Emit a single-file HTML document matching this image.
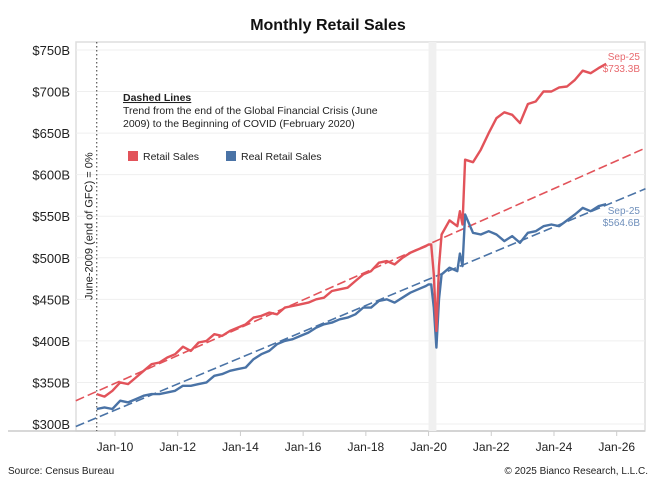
<!DOCTYPE html>
<html><head><meta charset="utf-8"><style>
body{margin:0;background:#fff;font-family:"Liberation Sans",sans-serif;}
svg text{font-family:"Liberation Sans",sans-serif;}
</style></head><body>
<svg id="c" width="656" height="492" viewBox="0 0 656 492">
<text x="328" y="30" text-anchor="middle" font-size="16" font-weight="bold" fill="#111">Monthly Retail Sales</text>
<g id="plot"></g>
<text x="8" y="474" font-size="10" fill="#222">Source: Census Bureau</text>
<text x="648" y="474" font-size="10" fill="#222" text-anchor="end">© 2025 Bianco Research, L.L.C.</text>
</svg>
<script>
// month index: 0 = Jan-2010
const months=[-7,-4,-1,2,5,8,11,14,17,20,23,26,29,32,35,38,41,44,47,50,53,56,59,62,65,68,71,74,77,80,83,86,89,92,95,98,101,104,107,110,113,116,119,120,121,122,123,124,125,128,131,132,133,134,137,140,143,146,149,152,155,158,161,164,167,170,173,176,179,182,185,188];
const retail=[336,333,340,350,348,356,364,372,374,380,384,393,388,398,400,408,406,412,416,420,428,430,434,432,440,442,444,446,450,452,460,462,464,472,480,484,494,496,492,500,506,510,514,516,516,480,412,490,528,545,538,556,540,618,615,630,650,668,675,672,662,685,688,700,700,705,706,714,725,722,728,733.3];
const real=[318,320,318,328,326,330,334,336,336,338,340,346,346,348,350,358,360,364,366,368,378,384,388,396,400,402,406,410,416,420,422,426,428,432,440,440,448,450,446,452,458,462,466,468,468,440,392,450,480,488,484,505,490,552,530,528,532,528,520,526,518,530,532,538,540,538,545,552,560,556,562,564.6];
const trendMonths=[-15,203];
const retailTrend=[328,632];
const realTrend=[297,583];
const yTicks=[300,350,400,450,500,550,600,650,700,750];
const xTickMonths=[0,24,48,72,96,120,144,168,192];
const xTickLabels=["Jan-10","Jan-12","Jan-14","Jan-16","Jan-18","Jan-20","Jan-22","Jan-24","Jan-26"];

const L=76,R=645,T=42,B=431;
const xs=m=>115+m*2.613;
const ys=v=>424-(v-300)*(41.56/50);
const NS="http://www.w3.org/2000/svg";
const g=document.getElementById('plot');
function mk(t,a,p){const e=document.createElementNS(NS,t);for(const k in a)e.setAttribute(k,a[k]);(p||g).appendChild(e);return e;}

let fr=mk('rect',{x:L,y:T,width:R-L,height:B-T,fill:'none',stroke:'#ddd','stroke-width':1.5});


yTicks.forEach(v=>{
 const y=ys(v);
 const gl=mk('line',{x1:L,x2:R,y1:y,y2:y,stroke:'#efefef'});
 
 
 const t=mk('text',{x:70,y:y+5,'text-anchor':'end','font-size':13,fill:'#222'});
 t.textContent='$'+v+'B';
 
 
});
const xa=mk('line',{x1:8,x2:R,y1:B,y2:B,stroke:'#ccc','stroke-width':1.5});


xTickMonths.forEach((m,i)=>{
 const x=xs(m);
 const tk=mk('line',{x1:x,x2:x,y1:B,y2:B+5,stroke:'#ccc'});
 
 
 const t=mk('text',{x:x,y:B+20,'text-anchor':'middle','font-size':12,fill:'#222'});
 t.textContent=xTickLabels[i];
 
 
});
const band=mk('rect',{x:xs(120),y:T,width:xs(123)-xs(120),height:B-T,fill:'#f0f0f0'});


const gx=xs(-7);
const dl=mk('line',{x1:gx,x2:gx,y1:T,y2:B,stroke:'#555','stroke-dasharray':'1.5,2.5','stroke-width':1.2});


const gt=mk('text',{x:0,y:0,'font-size':11,fill:'#222',transform:`translate(${gx-4},300) rotate(-90)`});
gt.textContent='June-2009 (end of GFC) = 0%';


function trend(vals,col,name){
 const l=mk('line',{x1:xs(trendMonths[0]),y1:ys(vals[0]),x2:xs(trendMonths[1]),y2:ys(vals[1]),stroke:col,'stroke-width':1.6,'stroke-dasharray':'9,4'});
 
 
}
trend(retailTrend,'#e2535a','retail-trend-line');
trend(realTrend,'#4a73a6','real-trend-line');
function series(vals,col,name){
 const d=months.map((m,i)=>(i?'L':'M')+xs(m).toFixed(1)+','+ys(vals[i]).toFixed(1)).join('');
 const p=mk('path',{d:d,fill:'none',stroke:col,'stroke-width':2.4,'stroke-linejoin':'round'});
 
 
}
series(real,'#4a73a6','real-retail-sales-line');
series(retail,'#e2535a','retail-sales-line');
function endLbl(v,col,y,name){
 const t=mk('text',{x:640,y:y,'text-anchor':'end','font-size':10,fill:col});
 
 
 const a=mk('tspan',{x:640},t);a.textContent='Sep-25';
 const b=mk('tspan',{x:640,dy:12},t);b.textContent='$'+v+'B';
}
endLbl(retail[retail.length-1],'#e86a6f',60,'retail-end-label');
endLbl(real[real.length-1],'#6f8fbb',214,'real-end-label');
const h=mk('text',{x:123,y:101,'font-size':10.5,'font-weight':'bold',fill:'#222','text-decoration':'underline'});
h.textContent='Dashed Lines';


const a1=mk('text',{x:123,y:114,'font-size':10.5,fill:'#222'});
a1.textContent='Trend from the end of the Global Financial Crisis (June';


const a2=mk('text',{x:123,y:127,'font-size':10.5,fill:'#222'});
a2.textContent='2009) to the Beginning of COVID (February 2020)';


function leg(x,col,label,name){
 const r=mk('rect',{x:x,y:151,width:10,height:10,fill:col});
 
 
 const t=mk('text',{x:x+15,y:160,'font-size':10.5,fill:'#222'});
 t.textContent=label;
 
 
}
leg(128,'#e2535a','Retail Sales','legend-retail');
leg(226,'#4a73a6','Real Retail Sales','legend-real');
</script>
</body></html>
